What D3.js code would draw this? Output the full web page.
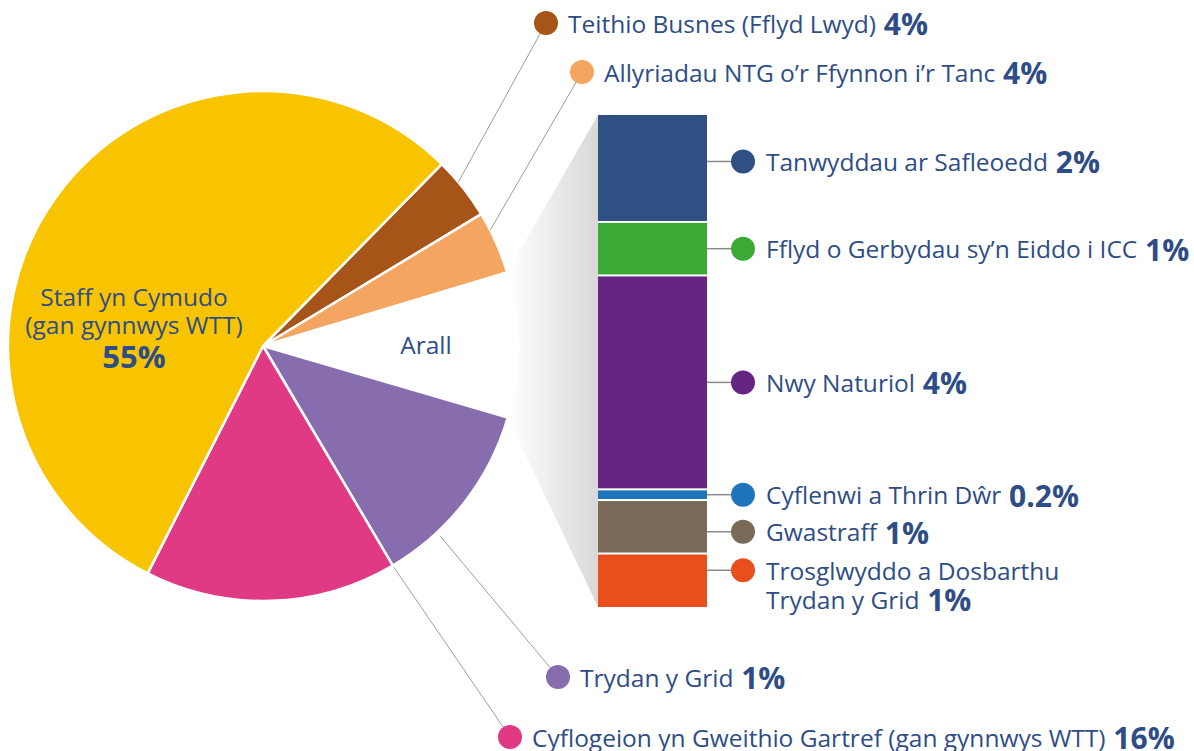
<!DOCTYPE html>
<html>
<head>
<meta charset="utf-8">
<script src="https://cdn.jsdelivr.net/npm/d3@7"></script>
<style>
  body { margin: 0; background: #fff; }
  svg text { font-family: "Open Sans", Lato, sans-serif; fill: #2e4d86; }
</style>
</head>
<body>
<svg id="vis"></svg>
<script>
// pie slices, clockwise starting from the brown slice
const pieCategories = ["Teithio Busnes (Fflyd Lwyd)", "Allyriadau NTG o’r Ffynnon i’r Tanc", "Arall",
    "Trydan y Grid", "Cyflogeion yn Gweithio Gartref (gan gynnwys WTT)", "Staff yn Cymudo (gan gynnwys WTT)"];
const pieValues = [4, 4, 9.2, 12, 16, 55];
const pieLabels = ["4%", "4%", "", "1%", "16%", "55%"];   // as printed on the picture
const pieColors = ["#a65417", "#f5a562", "url(#arallGrad)", "#876dae", "#e03a85", "#f8c400"];

// breakdown of "Arall"
const barCategories = ["Tanwyddau ar Safleoedd", "Fflyd o Gerbydau sy’n Eiddo i ICC", "Nwy Naturiol",
    "Cyflenwi a Thrin Dŵr", "Gwastraff", "Trosglwyddo a Dosbarthu Trydan y Grid"];
const barValues = [2, 1, 4, 0.2, 1, 1];
const barLabels = ["2%", "1%", "4%", "0.2%", "1%", "1%"];
const barColors = ["#2e5083", "#3baa35", "#662483", "#1f75bc", "#7a6a58", "#e94f1d"];

function main()
{
    const width = 1194, height = 751;
    const cx = 263, cy = 346, radius = 255;
    const deg = Math.PI / 180;
    const startAngle = 44.5 * deg;
    const fontSize = 24.5, boldSize = 30;

    let svg = d3.select('#vis')
        .attr('width', width)
        .attr('height', height);

    let defs = svg.append('defs');
    let g1 = defs.append('linearGradient').attr('id', 'arallGrad')
        .attr('gradientUnits', 'userSpaceOnUse')
        .attr('x1', cx + 40).attr('y1', 0).attr('x2', cx + radius).attr('y2', 0);
    g1.append('stop').attr('offset', 0).attr('stop-color', '#ffffff');
    g1.append('stop').attr('offset', 0.45).attr('stop-color', '#f6f6f6');
    g1.append('stop').attr('offset', 1).attr('stop-color', '#dcdcdc');

    let g2 = defs.append('linearGradient').attr('id', 'fanGrad')
        .attr('gradientUnits', 'userSpaceOnUse')
        .attr('x1', cx + radius - 10).attr('y1', 0).attr('x2', 598).attr('y2', 0);
    g2.append('stop').attr('offset', 0).attr('stop-color', '#ffffff');
    g2.append('stop').attr('offset', 1).attr('stop-color', '#d8d8d8');

    let pie = d3.pie().sort(null).value(d => d)
        .startAngle(startAngle).endAngle(startAngle + 2 * Math.PI);
    let arcs = pie(pieValues);
    let arc = d3.arc().innerRadius(0).outerRadius(radius);

    // stacked bar for Arall
    const bar = {x: 598, width: 109, top: 115, bottom: 607};
    let yScale = d3.scaleLinear()
        .domain([0, d3.sum(barValues)])
        .range([bar.top, bar.bottom]);
    let stack = [];
    let acc = 0;
    barValues.forEach((v, i) => { stack.push({i: i, y0: acc, y1: acc + v}); acc += v; });

    // grey fan from the Arall slice to the bar
    const pt = (a, r) => [cx + r * Math.sin(a), cy - r * Math.cos(a)];
    let a0 = pt(arcs[2].startAngle, radius), a1 = pt(arcs[2].endAngle, radius);
    svg.append('path')
        .attr('d', d3.line()([a0, [bar.x, yScale(0)], [bar.x, yScale(acc)], a1]) + 'Z')
        .attr('fill', 'url(#fanGrad)');

    // pie
    let pg = svg.append('g').attr('transform', `translate(${cx},${cy})`);
    pg.selectAll('path').data(arcs).enter().append('path')
        .attr('d', arc)
        .attr('fill', (d, i) => pieColors[i])
        .attr('stroke', '#fff')
        .attr('stroke-width', 2.5)
        .attr('stroke-linejoin', 'round');

    svg.append('g').selectAll('rect').data(stack).enter().append('rect')
        .attr('x', bar.x)
        .attr('width', bar.width)
        .attr('y', d => yScale(d.y0) + (d.i > 0 ? 1 : 0))
        .attr('height', d => yScale(d.y1) - yScale(d.y0) - (d.i > 0 ? 1 : 0) - (d.i < stack.length - 1 ? 1 : 0))
        .attr('fill', d => barColors[d.i]);

    // label text helper: name + bold percentage, one text per line
    function addLabel(x, y, lines, pct)
    {
        lines.forEach((ln, k) => {
            let t = svg.append('text').attr('x', x).attr('y', y + k * 29)
                .attr('font-size', fontSize)
                .attr('dominant-baseline', 'central')
                .text(ln);
            if (k === lines.length - 1 && pct) {
                t.append('tspan').attr('font-weight', 700).attr('font-size', boldSize).text(' ' + pct);
            }
        });
    }

    // callouts for the pie slices (dot position, anchor angle on the rim)
    const pieCallouts = [
        {i: 0, dot: [546, 23], angle: 50, r: radius},
        {i: 1, dot: [582, 72], angle: 63, r: radius},
        {i: 3, dot: [558, 677], angle: 137, r: radius + 5},
        {i: 4, dot: [510, 737], angle: 149.4, r: radius + 2}
    ];
    pieCallouts.forEach(c => {
        let p = pt(c.angle * deg, c.r);
        svg.append('line')
            .attr('x1', p[0]).attr('y1', p[1]).attr('x2', c.dot[0]).attr('y2', c.dot[1])
            .attr('stroke', '#9d9d9d').attr('stroke-width', 1);
        svg.append('circle').attr('cx', c.dot[0]).attr('cy', c.dot[1]).attr('r', 12)
            .attr('fill', pieColors[c.i]);
        addLabel(c.dot[0] + 22, c.dot[1], [pieCategories[c.i]], pieLabels[c.i]);
    });

    // callouts for the bar segments
    const barNudge = [-7, 0, 0, 0, 5, -10];
    stack.forEach(d => {
        let y = (yScale(d.y0) + yScale(d.y1)) / 2 + barNudge[d.i];
        svg.append('line')
            .attr('x1', bar.x + bar.width).attr('x2', 735).attr('y1', y).attr('y2', y)
            .attr('stroke', '#8a8a8a').attr('stroke-width', 1.5);
        svg.append('circle').attr('cx', 743).attr('cy', y).attr('r', 12)
            .attr('fill', barColors[d.i]);
        let lines = d.i === 5 ? ["Trosglwyddo a Dosbarthu", "Trydan y Grid"] : [barCategories[d.i]];
        addLabel(766, y, lines, barLabels[d.i]);
    });

    // labels inside the pie
    let st = svg.append('text').attr('text-anchor', 'middle').attr('font-size', fontSize);
    st.append('tspan').attr('x', 134).attr('y', 306).text("Staff yn Cymudo");
    st.append('tspan').attr('x', 134).attr('y', 334).text("(gan gynnwys WTT)");
    st.append('tspan').attr('x', 134).attr('y', 368).attr('font-weight', 700).attr('font-size', 31).text(pieLabels[5]);

    svg.append('text').attr('x', 426).attr('y', 344).attr('text-anchor', 'middle')
        .attr('dominant-baseline', 'central').attr('font-size', fontSize).text(pieCategories[2]);
}
main();
</script>
</body>
</html>
